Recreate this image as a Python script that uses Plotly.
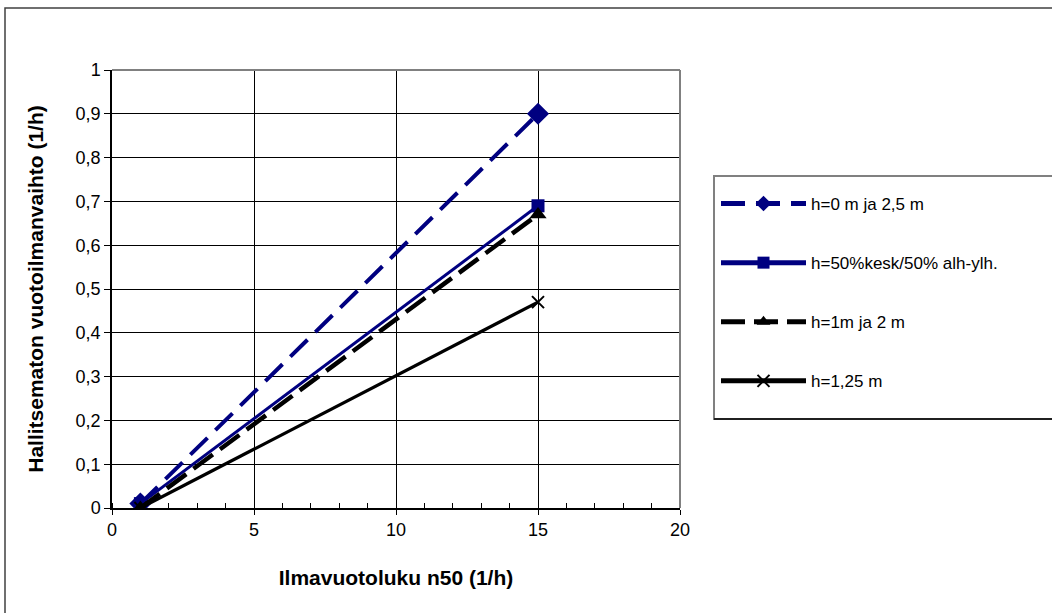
import plotly.graph_objects as go

# Air leakage rate n50 (1/h) at the two measured points
n50 = [1, 15]

# Uncontrolled infiltration (1/h) for each opening height assumption
h_0_ja_25 = [0.01, 0.90]
h_50_50 = [0.01, 0.69]
h_1_ja_2 = [0.0, 0.67]
h_125 = [0.0, 0.47]

series_names = [
    "h=0 m ja 2,5 m",
    "h=50%kesk/50% alh-ylh.",
    "h=1m ja 2 m",
    "h=1,25 m",
]

y_tickvals = [0, 0.1, 0.2, 0.3, 0.4, 0.5, 0.6, 0.7, 0.8, 0.9, 1.0]
y_ticktext = ["0", "0,1", "0,2", "0,3", "0,4", "0,5", "0,6", "0,7", "0,8", "0,9", "1"]
x_tickvals = [0, 5, 10, 15, 20]

NAVY = "#000080"
FONT = "Liberation Sans, Arial, sans-serif"

W, H = 1052, 613
L, R, T, B = 112, 680, 70, 508  # plot area edges in pixels


def px_x(p):
    return (p - L) / (R - L)


def px_y(p):
    return (B - p) / (B - T)


fig = go.Figure()

styles = [
    dict(y=h_0_ja_25, color=NAVY, dash="24px,11px", width=4,
         symbol="diamond", size=17, mline=0),
    dict(y=h_50_50, color=NAVY, dash="solid", width=3,
         symbol="square", size=13, mline=0),
    dict(y=h_1_ja_2, color="black", dash="24px,9px", width=4.5,
         symbol="triangle-up", size=15, mline=0),
    dict(y=h_125, color="black", dash="solid", width=3.2,
         symbol="x-thin", size=12, mline=2),
]

for i, (name, s) in enumerate(zip(series_names, styles)):
    fig.add_trace(go.Scatter(
        x=n50, y=s["y"], name=name, mode="lines+markers",
        legendgroup=f"g{i}",
        line=dict(color=s["color"], width=s["width"], dash=s["dash"]),
        marker=dict(symbol=s["symbol"], size=s["size"], color=s["color"],
                    line=dict(color=s["color"], width=s["mline"])),
    ))

shapes = [
    # outer chart frame
    dict(type="rect", xref="paper", yref="paper",
         x0=px_x(5), x1=px_x(W + 20), y0=px_y(8), y1=px_y(H + 20),
         line=dict(color="#404040", width=1.5), layer="below"),
    # plot area frame, top and right
    dict(type="line", xref="paper", yref="paper", x0=0, x1=1, y0=1, y1=1,
         line=dict(color="#808080", width=2)),
    dict(type="line", xref="paper", yref="paper", x0=1, x1=1, y0=0, y1=1,
         line=dict(color="#808080", width=2)),
    # legend box
    dict(type="rect", xref="paper", yref="paper",
         x0=px_x(714), x1=px_x(W + 20), y0=px_y(419), y1=px_y(176),
         line=dict(color="#808080", width=2), layer="below"),
    dict(type="line", xref="paper", yref="paper",
         x0=px_x(714), x1=px_x(W + 20), y0=px_y(419), y1=px_y(419),
         line=dict(color="black", width=1.5)),
]

fig.update_layout(
    width=W, height=H,
    margin=dict(l=L, r=W - R, t=T, b=H - B),
    paper_bgcolor="white", plot_bgcolor="white",
    font=dict(family=FONT, size=17, color="black"),
    showlegend=True,
    legend=dict(
        x=px_x(716), y=px_y(186), xanchor="left", yanchor="top",
        bgcolor="rgba(0,0,0,0)", borderwidth=0,
        font=dict(family=FONT, size=17, color="black"),
        itemwidth=85, itemsizing="constant",
        tracegroupgap=34,
    ),
    xaxis=dict(
        range=[0, 20], tickvals=x_tickvals, ticks="outside", ticklen=5,
        tickcolor="black", showline=True, linecolor="black", linewidth=1.5,
        showgrid=True, gridcolor="black", gridwidth=1, zeroline=False,
        minor=dict(dtick=1, ticks="inside", ticklen=5, tickcolor="black",
                   showgrid=False),
        tickfont=dict(family=FONT, size=18),
        title=dict(text="<b>Ilmavuotoluku n50 (1/h)</b>", standoff=31,
                   font=dict(family=FONT, size=21)),
    ),
    yaxis=dict(
        range=[0, 1], tickvals=y_tickvals, ticktext=y_ticktext,
        ticks="outside", ticklen=6, tickcolor="black",
        showline=True, linecolor="black", linewidth=1.5,
        showgrid=True, gridcolor="black", gridwidth=1, zeroline=False,
        tickfont=dict(family=FONT, size=18),
        title=dict(text="<b>Hallitsematon vuotoilmanvaihto (1/h)</b>", standoff=26,
                   font=dict(family=FONT, size=21)),
    ),
    shapes=shapes,
)

fig.write_html("out.html")
